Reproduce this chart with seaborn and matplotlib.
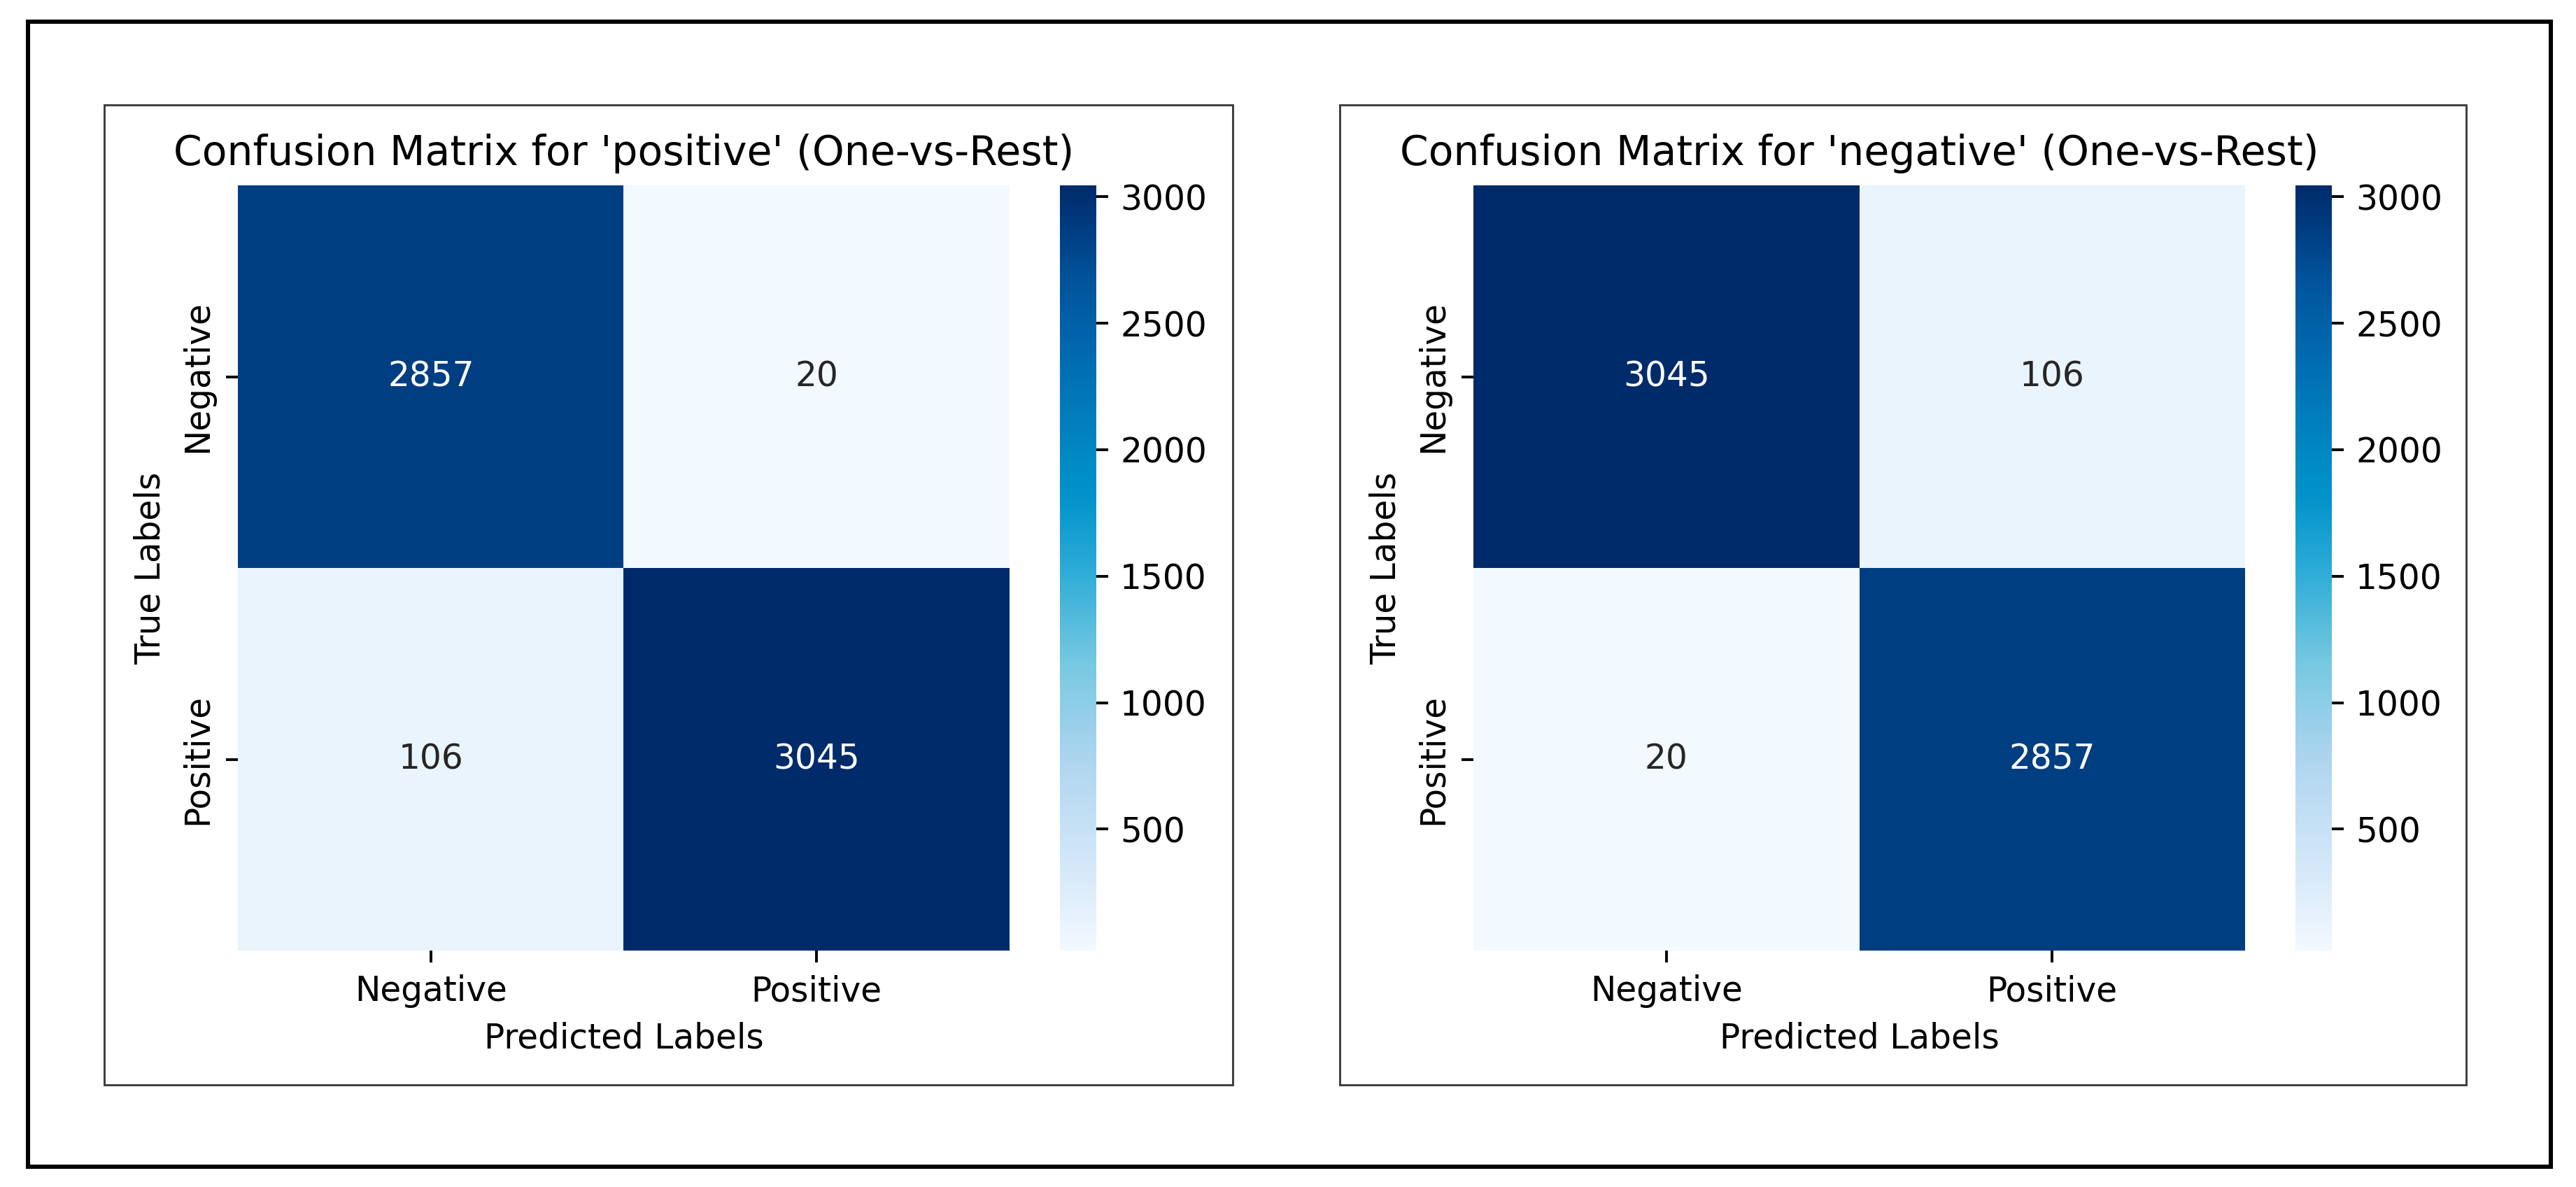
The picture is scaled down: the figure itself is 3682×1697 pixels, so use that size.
import numpy as np
import matplotlib
matplotlib.use('Agg')
import matplotlib.pyplot as plt
import seaborn as sns
from matplotlib.patches import Rectangle
from matplotlib.colors import ListedColormap, rgb_to_hsv, hsv_to_rgb

# Data
class_names = ['positive', 'negative']
tick_labels = ['Negative', 'Positive']
cm_positive = [[2857, 20], [106, 3045]]
cm_negative = [[3045, 106], [20, 2857]]
matrices = [cm_positive, cm_negative]

# Blues, but with the punchier saturation seen in the screenshot
t = np.linspace(0, 1, 256)
hsv = rgb_to_hsv(plt.get_cmap('Blues')(t)[:, :3])
hsv[:, 1] = np.clip(hsv[:, 1] * 1.6, 0, 1)
hsv[:, 0] = hsv[:, 0] - 0.02 * np.sin(np.pi * t)
blues_vivid = ListedColormap(hsv_to_rgb(hsv), name='blues_vivid')

# Canvas in pixels (rendered at dpi 350 so default font sizes match)
W, H = 3682, 1697
DPI = 350
fig = plt.figure(figsize=(W / DPI, H / DPI), dpi=DPI)
fig.patch.set_facecolor('white')

def px_box(x0, y0, x1, y1):
    # top-left / bottom-right pixel coords -> figure fraction [l, b, w, h]
    return [x0 / W, 1 - y1 / H, (x1 - x0) / W, (y1 - y0) / H]

# Outer thick frame
l, b, w, h = px_box(40, 31, 3646, 1668)
fig.add_artist(Rectangle((l, b), w, h, transform=fig.transFigure, fill=False,
                         edgecolor='black', linewidth=1.25))

panel_offsets = [0, 1766]
panel_rights = [1762, 3525]

for i, (name, cm) in enumerate(zip(class_names, matrices)):
    dx = panel_offsets[i]

    # thin panel box
    l, b, w, h = px_box(149 + dx, 150, panel_rights[i], 1551)
    fig.add_artist(Rectangle((l, b), w, h, transform=fig.transFigure, fill=False,
                             edgecolor='#3c3c3c', linewidth=0.6))

    ax = fig.add_axes(px_box(340 + dx, 265, 1443 + dx, 1359))
    cax = fig.add_axes(px_box(1515 + dx, 265, 1567 + dx, 1359))

    sns.heatmap(np.array(cm), annot=True, fmt='d', cmap=blues_vivid, ax=ax, cbar_ax=cax,
                xticklabels=tick_labels, yticklabels=tick_labels)
    ax.set_title(f"Confusion Matrix for '{name}' (One-vs-Rest)")
    ax.set_xlabel('Predicted Labels')
    ax.set_ylabel('True Labels')

fig.savefig('out.png', dpi=DPI)
